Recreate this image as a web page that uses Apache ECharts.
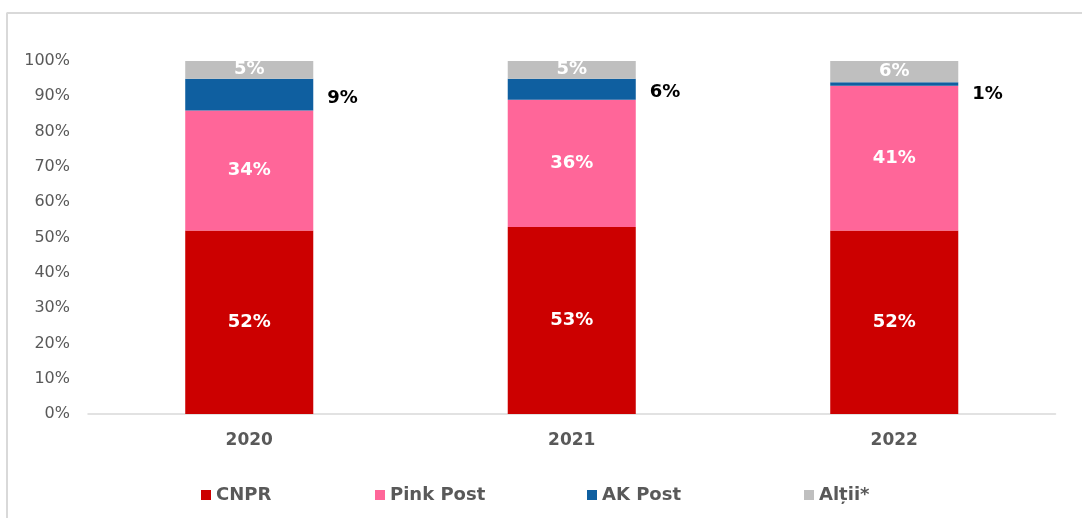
<!DOCTYPE html>
<html><head><meta charset="utf-8">
<script src="https://cdn.jsdelivr.net/npm/echarts@6/dist/echarts.min.js"></script>
<style>html,body{margin:0;padding:0;background:#fff}#c{width:1082px;height:518px}</style>
</head><body><div id="c"></div>
<script>
const categories = ['2020', '2021', '2022'];
const seriesNames = ['CNPR', 'Pink Post', 'AK Post', 'Alții*'];
const cnpr = [52, 53, 52];
const pinkPost = [34, 36, 41];
const akPost = [9, 6, 1];
const altii = [5, 5, 6];
const yTicks = [0, 10, 20, 30, 40, 50, 60, 70, 80, 90, 100];

const colors = ['#CC0000', '#FF6699', '#0F5FA0', '#BFBFBF'];
const font = 'DejaVu Sans, Verdana, sans-serif';
const inLabel = {show: true, position: 'inside', color: '#fff', fontWeight: 'bold', fontSize: 18, fontFamily: font, formatter: p => p.value + '%'};
const akOffsets = [[0, 4], [0, 3], [0, 10]];

const chart = echarts.init(document.getElementById('c'));
const legendX = [196, 370, 582, 799];
chart.setOption({
  animation: false,
  grid: {left: 88, right: 26.5, top: 61, bottom: 104},
  xAxis: {type: 'category', data: categories,
    axisLine: {lineStyle: {color: '#D9D9D9', width: 1.5}}, axisTick: {show: false},
    axisLabel: {color: '#595959', fontWeight: 'bold', fontSize: 17, fontFamily: font, margin: 18}},
  yAxis: {type: 'value', min: yTicks[0], max: yTicks[yTicks.length - 1], interval: 10,
    axisLine: {show: false}, axisTick: {show: false}, splitLine: {show: false},
    axisLabel: {color: '#595959', fontSize: 16, fontFamily: font, margin: 18, formatter: v => v + '%'}},
  legend: seriesNames.map((n, i) => ({data: [n], left: legendX[i], top: 481, itemWidth: 10, itemHeight: 10, itemGap: 8,
    icon: 'rect', textStyle: {color: '#595959', fontWeight: 'bold', fontSize: 18, fontFamily: font}})),
  graphic: [
    {type: 'line', shape: {x1: 6.5, y1: 13, x2: 1082, y2: 13}, style: {stroke: '#D9D9D9', lineWidth: 2}},
    {type: 'line', shape: {x1: 7, y1: 13, x2: 7, y2: 518}, style: {stroke: '#D9D9D9', lineWidth: 2}}
  ],
  series: [
    {name: seriesNames[0], type: 'bar', stack: 's', data: cnpr, barWidth: '39.7%', itemStyle: {color: colors[0]}, label: inLabel},
    {name: seriesNames[1], type: 'bar', stack: 's', data: pinkPost, itemStyle: {color: colors[1]}, label: inLabel},
    {name: seriesNames[2], type: 'bar', stack: 's', itemStyle: {color: colors[2]},
      data: akPost.map((v, i) => ({value: v, label: {offset: akOffsets[i]}})),
      label: {show: true, position: 'right', distance: 14, color: '#000', fontWeight: 'bold', fontSize: 18, fontFamily: font, formatter: p => p.value + '%'}},
    {name: seriesNames[3], type: 'bar', stack: 's', data: altii, itemStyle: {color: colors[3]}, label: inLabel}
  ]
});
</script></body></html>
